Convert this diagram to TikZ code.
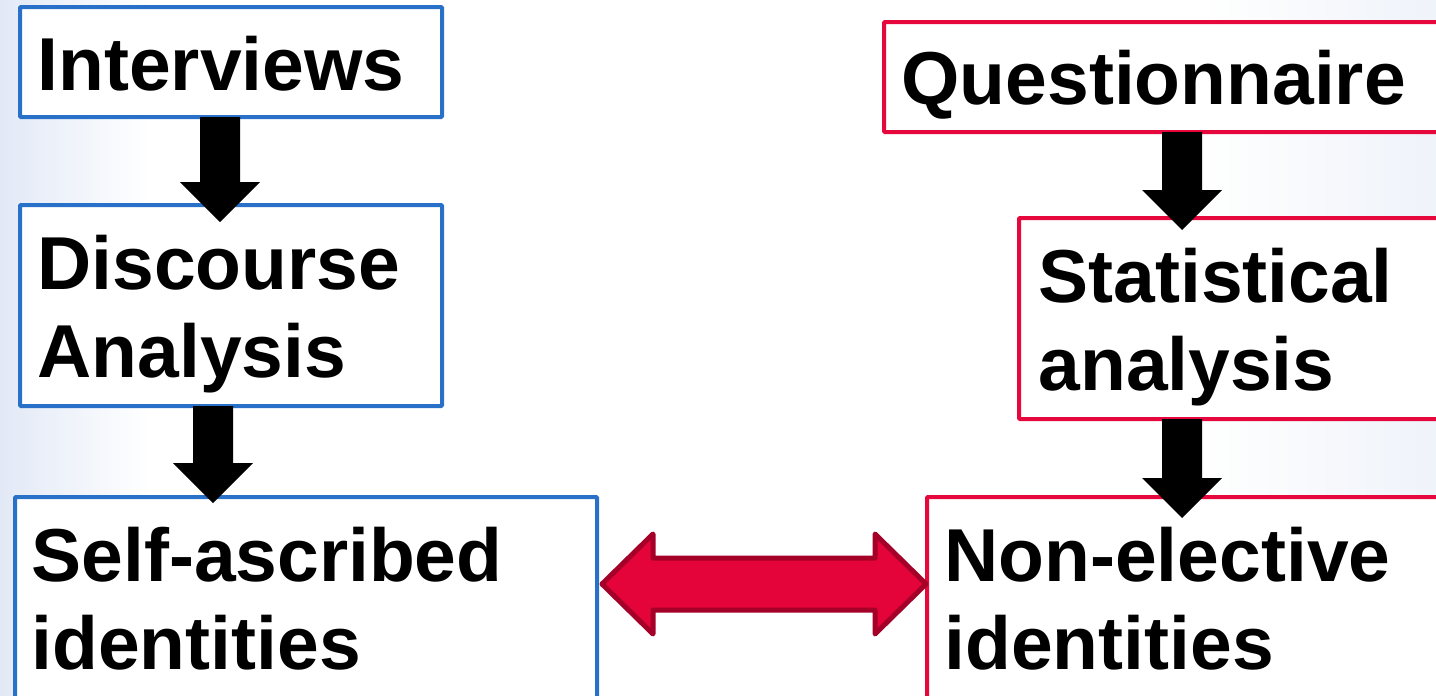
\documentclass[tikz,border=0pt]{standalone}
\usepackage{fontspec}
\setmainfont{Liberation Sans}
\usetikzlibrary{calc}

\definecolor{boxblue}{RGB}{40,112,200}
\definecolor{boxred}{RGB}{230,8,60}
\definecolor{linkfill}{RGB}{228,4,58}
\definecolor{linkedge}{RGB}{165,0,40}
\definecolor{haze}{RGB}{226,233,246}

\tikzset{
  panel/.style={draw, line width=4pt, fill=white, outer sep=0pt, inner sep=0pt,
                anchor=north west, rounded corners=1pt},
  leftpanel/.style={panel, draw=boxblue},
  rightpanel/.style={panel, draw=boxred},
  boxtext/.style={anchor=base west, inner sep=0pt, outer sep=0pt, align=left,
                  font=\fontsize{75}{88}\selectfont\bfseries},
  flowarrow/.style={fill=black},
  linkarrow/.style={fill=linkfill, draw=linkedge, line width=5pt, line join=round}
}

% vertical block arrow from #1 (top of shaft) to #2 (tip)
\newcommand\flowdown[2]{%
  \fill[flowarrow] let \p1=(#1), \p2=(#2) in
    (\x1-20pt,\y1) -- (\x1+20pt,\y1) -- (\x1+20pt,\y2+40pt) -- (\x1+40pt,\y2+40pt)
    -- (\x1,\y2) -- (\x1-40pt,\y2+40pt) -- (\x1-20pt,\y2+40pt) -- cycle;}

\begin{document}
\begin{tikzpicture}[x=1pt,y=-1pt]
  \useasboundingbox (0,0) rectangle (1436,696);
  \clip (0,0) rectangle (1436,696);

  % background
  \fill[white] (0,0) rectangle (1436,696);
  \shade[left color=haze, right color=white] (0,0) rectangle (150,696);
  \shade[left color=white, right color=haze!55] (1200,0) rectangle (1436,696);

  % boxes
  \node[leftpanel, minimum width=422pt, minimum height=110pt] (iv) at (20,7) {};
  \node[leftpanel, minimum width=422pt, minimum height=201pt] (da) at (20,205) {};
  \node[leftpanel, minimum width=582pt, minimum height=230pt] (sa) at (15,497) {};
  \node[rightpanel, minimum width=600pt, minimum height=110pt] (qu) at (884,22) {};
  \node[rightpanel, minimum width=500pt, minimum height=201pt] (st) at (1019,218) {};
  \node[rightpanel, minimum width=600pt, minimum height=230pt] (ne) at (927,497) {};

  % texts (anchor sits on the baseline of the last line)
  \node[boxtext] (t1) at (37.5,90) {Interviews};
  \node[boxtext] (t2) at (37.5,377) {Discourse\\Analysis};
  \node[boxtext] (t3) at (31.5,669) {Self-ascribed\\identities};
  \node[boxtext] (t4) at (901.5,104) {Questionnaire};
  \node[boxtext] (t5) at (1038.5,390) {Statistical\\analysis};
  \node[boxtext] (t6) at (944.5,669) {Non-elective\\identities};

  % downward flow arrows
  \coordinate (a1s) at ($(iv.south west)+(200,0)$);
  \coordinate (a1e) at ($(da.north west)+(200,17)$);
  \coordinate (a2s) at ($(da.south west)+(193,0)$);
  \coordinate (a2e) at ($(sa.north west)+(198,6)$);
  \coordinate (a3s) at ($(qu.south west)+(298,0)$);
  \coordinate (a3e) at ($(st.north west)+(163,12)$);
  \coordinate (a4s) at ($(st.south west)+(163,0)$);
  \coordinate (a4e) at ($(ne.north west)+(255,21)$);
  \flowdown{a1s}{a1e}
  \flowdown{a2s}{a2e}
  \flowdown{a3s}{a3e}
  \flowdown{a4s}{a4e}

  % double-headed link between the two identity boxes
  \coordinate (lt) at ($(sa.north east)+(5,87)$);
  \coordinate (rt) at ($(ne.north west)+(-1,87)$);
  \draw[linkarrow] let \p1=(lt), \p2=(rt) in
    (\x1,\y1) -- (\x1+51pt,\y1+50pt) -- (\x1+51pt,\y1+26pt) -- (\x2-51pt,\y1+26pt)
    -- (\x2-51pt,\y1+50pt) -- (\x2,\y2) -- (\x2-51pt,\y1-50pt) -- (\x2-51pt,\y1-26pt)
    -- (\x1+51pt,\y1-26pt) -- (\x1+51pt,\y1-50pt) -- cycle;
\end{tikzpicture}
\end{document}
